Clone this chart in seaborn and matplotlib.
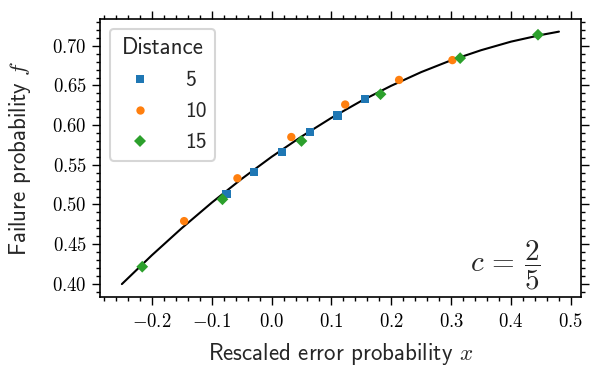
import numpy as np
import pandas as pd
import matplotlib
matplotlib.use("Agg")
import matplotlib.pyplot as plt
from matplotlib.ticker import MultipleLocator, AutoMinorLocator, FuncFormatter
import seaborn as sns

# ---- data ----
x_d5 = [-0.075, -0.029, 0.018, 0.064, 0.110, 0.156]
f_d5 = [0.513, 0.541, 0.566, 0.591, 0.612, 0.633]

x_d10 = [-0.146, -0.057, 0.033, 0.123, 0.213, 0.302]
f_d10 = [0.479, 0.533, 0.585, 0.626, 0.657, 0.682]

x_d15 = [-0.216, -0.082, 0.050, 0.182, 0.315, 0.445]
f_d15 = [0.4215, 0.5065, 0.580, 0.639, 0.6845, 0.714]

curve_x = [-0.25, -0.20, -0.15, -0.10, -0.05, 0.00, 0.05, 0.10, 0.15,
           0.20, 0.25, 0.30, 0.35, 0.40, 0.45, 0.48]
curve_f = [0.3996, 0.4359, 0.4701, 0.5022, 0.5322, 0.5600, 0.5856, 0.6092,
           0.6306, 0.6497, 0.6669, 0.6818, 0.6945, 0.7053, 0.7137, 0.7179]

distances = [5, 10, 15]
colors = ["#1f77b4", "#ff7f0e", "#2ca02c"]
markers = {5: "s", 10: "o", 15: "D"}

df = pd.DataFrame({
    "x": x_d5 + x_d10 + x_d15,
    "f": f_d5 + f_d10 + f_d15,
    "Distance": [5] * len(x_d5) + [10] * len(x_d10) + [15] * len(x_d15),
})

sns.set_style("ticks")
plt.rcParams["font.family"] = ["cmss10", "DejaVu Sans"]
plt.rcParams["mathtext.fontset"] = "cm"
plt.rcParams["axes.unicode_minus"] = True

fig, ax = plt.subplots(figsize=(6, 3.75), dpi=100)
fig.subplots_adjust(left=0.1667, right=0.968, bottom=0.2088, top=0.9493)

sns.lineplot(x=curve_x, y=curve_f, color="black", linewidth=1.5, ax=ax,
             sort=False, zorder=1)
sns.scatterplot(data=df, x="x", y="f", hue="Distance", style="Distance",
                palette=dict(zip(distances, colors)), markers=markers,
                s=36, linewidth=0, ax=ax, zorder=3, legend="full")

handles, labels = ax.get_legend_handles_labels()
leg = ax.legend(handles, labels, title="Distance", loc="upper left",
                fontsize=15.5, title_fontsize=16.5, handletextpad=1.1,
                labelspacing=0.55, framealpha=0.8, edgecolor="0.8",
                fancybox=True, borderaxespad=0.45)
leg.get_frame().set_linewidth(1.5)

ax.set_xlabel(r"Rescaled error probability $x$", fontsize=16.5, labelpad=7)
ax.set_ylabel(r"Failure probability $f$", fontsize=16.5, labelpad=14)

ax.xaxis.set_major_locator(MultipleLocator(0.1))
ax.yaxis.set_major_locator(MultipleLocator(0.05))
ax.xaxis.set_minor_locator(AutoMinorLocator(5))
ax.yaxis.set_minor_locator(AutoMinorLocator(5))
ax.xaxis.set_major_formatter(FuncFormatter(lambda v, p: f"${v:.1f}$"))
ax.yaxis.set_major_formatter(FuncFormatter(lambda v, p: f"${v:.2f}$"))

ax.tick_params(which="both", direction="out", top=True, right=True,
               width=1.0, labelsize=13.5, colors="black")
ax.tick_params(which="major", length=6.0, pad=3.5)
ax.tick_params(axis="x", which="major", pad=6)
ax.tick_params(which="minor", length=3.2)
for sp in ax.spines.values():
    sp.set_linewidth(1.2)
    sp.set_color("black")

ax.text(0.842, 0.114, r"$c\,=\,\dfrac{2}{5}$", transform=ax.transAxes,
        fontsize=21, ha="center", va="center")

fig.savefig("out.png", dpi=100)
